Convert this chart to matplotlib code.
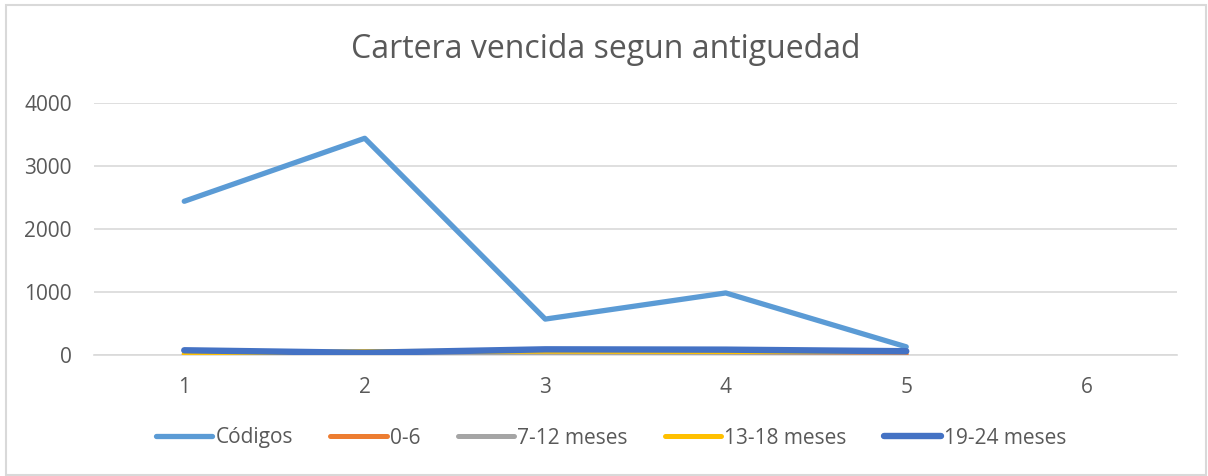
import matplotlib
matplotlib.use("Agg")
import matplotlib.pyplot as plt
from matplotlib.patches import Rectangle

categories = ["1", "2", "3", "4", "5", "6"]
codigos = [2440, 3440, 570, 985, 130, None]
s0_6 = [5, 20, 20, 10, 10, None]
s7_12 = [10, 30, 40, 40, 50, None]
s13_18 = [20, 55, 60, 55, 60, None]
s19_24 = [75, 35, 90, 85, 60, None]
series_names = ["Códigos", "0-6", "7-12 meses", "13-18 meses", "19-24 meses"]
colors = ["#5B9BD5", "#ED7D31", "#A5A5A5", "#FFC000", "#4472C4"]
yticks = [0, 1000, 2000, 3000, 4000]

plt.rcParams['font.family'] = ['Open Sans', 'DejaVu Sans']

W, H = 1208, 476
fig = plt.figure(figsize=(W/100, H/100), dpi=100)
ax = fig.add_axes([94/W, 1-355/H, (1177-94)/W, (355-103)/H])

x = list(range(len(categories)))
all_series = [codigos, s0_6, s7_12, s13_18, s19_24]
widths = [3.8, 3.6, 3.6, 3.6, 4.6]
for vals, name, c, lw in zip(all_series, series_names, colors, widths):
    xs = [xi for xi, v in zip(x, vals) if v is not None]
    ys = [v for v in vals if v is not None]
    ax.plot(xs, ys, color=c, lw=lw, label=name, solid_capstyle='round',
            solid_joinstyle='round', zorder=3)

ax.set_xlim(-0.5, len(categories)-0.5)
ax.set_ylim(0, 4000)
ax.set_yticks(yticks)
ax.set_yticklabels([str(t) for t in yticks])
ax.set_xticks(x)
ax.set_xticklabels(categories)
ax.grid(axis='y', color='#D9D9D9', lw=1.2, zorder=0)
ax.set_axisbelow(True)
for s in ['top', 'right', 'left']:
    ax.spines[s].set_visible(False)
ax.spines['bottom'].set_color('#D9D9D9')
ax.spines['bottom'].set_linewidth(1.2)
ax.tick_params(axis='both', length=0, labelsize=15, labelcolor='#595959')
ax.tick_params(axis='y', pad=16)
ax.tick_params(axis='x', pad=16)

fig.text(606/W, 1-49/H, "Cartera vencida segun antiguedad", ha='center', va='center',
         fontsize=23, color='#595959')

handles, labels = ax.get_legend_handles_labels()
leg = fig.legend(handles, labels, loc='center', bbox_to_anchor=(611/W, 1-438/H),
                 ncol=5, frameon=False, fontsize=15, handlelength=2.7,
                 handletextpad=0.15, columnspacing=1.8, labelcolor='#595959')

fig.add_artist(Rectangle((6/W, 1-475/H), (1206-6)/W, (475-5)/H, transform=fig.transFigure,
                         fill=False, edgecolor='#D9D9D9', lw=1.5))

fig.savefig("out.png", dpi=100)
